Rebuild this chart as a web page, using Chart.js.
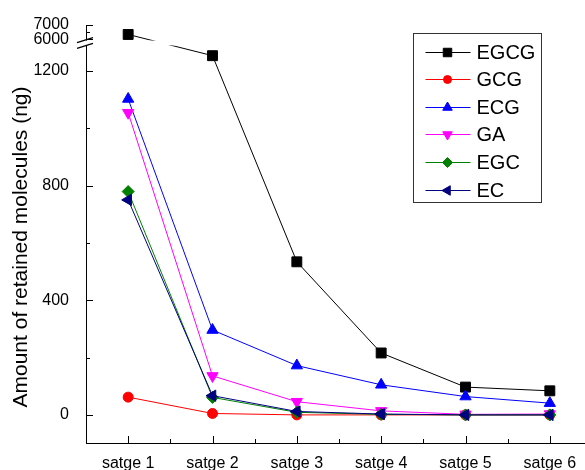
<!DOCTYPE html>
<html>
<head>
<meta charset="utf-8">
<script src="https://cdn.jsdelivr.net/npm/chart.js@4.4.1/dist/chart.umd.min.js"></script>
<style>
  html, body { margin: 0; padding: 0; background: #fff; overflow: hidden; }
  #wrap { width: 585px; height: 470px; overflow: hidden; }
  #wrap canvas { display: block; }
</style>
</head>
<body>
<div id="wrap"><canvas id="chart" width="600" height="470"></canvas></div>
<script>
const stages = ["satge 1", "satge 2", "satge 3", "satge 4", "satge 5", "satge 6"];

// retained amount per stage (ng)
const egcg = [6340, 1253, 534, 216, 97, 84];
const gcg  = [62, 5, 0, 0, 0, 0];
const ecg  = [1102, 296, 172, 105, 64, 41];
const ga   = [1054, 136, 46, 14, 2, 3];
const egc  = [779, 61, 9, 2, 0, 0];
const ec   = [750, 67, 12, 3, 0, 0];

const yTicks = [0, 400, 800, 1200, 6000, 7000];
const yMinorTicks = [200, 600, 1000, 6500];
const yMin = -98;
const yMax = 7000;
const yTitle = 'Amount of retained molecules (ng)';

// broken y axis: values above the break get squeezed on top of the lower range
const breakLow = 1287;     // top of the lower segment
const breakHigh = 5950;    // bottom of the upper segment
const upperBase = 1310;    // axis position of 6000
const upperScale = 0.05;   // 1000 units above the break = 50 units below it

function toAxis(v) {
  return v > breakLow ? upperBase + (v - 6000) * upperScale : v;
}
function fromAxis(a) {
  return a > breakLow ? Math.round(6000 + (a - upperBase) / upperScale) : a;
}

const FONT = '"Liberation Sans", Arial, Helvetica, sans-serif';
Chart.defaults.font.family = FONT;
Chart.defaults.color = '#000';

function series(label, values, color, style, radius, rotation, order) {
  return {
    label: label,
    data: values.map(toAxis),
    borderColor: color,
    backgroundColor: color,
    pointBackgroundColor: color,
    pointBorderColor: color,
    borderWidth: 1,
    pointStyle: style,
    pointRadius: radius,
    pointRotation: rotation,
    pointBorderWidth: 1,
    tension: 0,
    order: order
  };
}

// inward ticks, minor ticks, the break marks and the y title
const axisDecor = {
  id: 'axisDecor',
  afterDraw(chart) {
    const { ctx, chartArea: area, scales: { x, y } } = chart;
    ctx.save();
    ctx.strokeStyle = '#000';
    ctx.lineWidth = 1;
    ctx.beginPath();
    yTicks.forEach(v => {
      const py = Math.round(y.getPixelForValue(toAxis(v))) + 0.5;
      ctx.moveTo(area.left, py);
      ctx.lineTo(area.left + 7, py);
    });
    yMinorTicks.forEach(v => {
      const py = Math.round(y.getPixelForValue(toAxis(v))) + 0.5;
      ctx.moveTo(area.left, py);
      ctx.lineTo(area.left + 4, py);
    });
    stages.forEach((s, i) => {
      const px = Math.round(x.getPixelForValue(i)) + 0.5;
      ctx.moveTo(px, area.bottom);
      ctx.lineTo(px, area.bottom - 7);
      const mx = Math.round(x.getPixelForValue(i + 0.5)) + 0.5;
      ctx.moveTo(mx, area.bottom);
      ctx.lineTo(mx, area.bottom - 4);
    });
    ctx.stroke();

    // gap across the plot where the axis is broken
    const yHigh = y.getPixelForValue(toAxis(breakHigh));
    const yLow = y.getPixelForValue(breakLow);
    ctx.fillStyle = '#fff';
    ctx.fillRect(area.left - 2, yHigh + 0.5, area.right - area.left, yLow - yHigh - 1);

    ctx.lineWidth = 1.3;
    ctx.beginPath();
    [yHigh, yLow].forEach(py => {
      ctx.moveTo(area.left - 9, py + 2.5);
      ctx.lineTo(area.left + 7, py - 2.5);
    });
    ctx.stroke();

    // axis title sits a little below the middle of the axis
    ctx.translate(21, (area.top + area.bottom) / 2 + 13);
    ctx.rotate(-Math.PI / 2);
    ctx.fillStyle = '#000';
    ctx.font = '21px ' + FONT;
    ctx.textAlign = 'center';
    ctx.textBaseline = 'middle';
    ctx.fillText(yTitle, 0, 0);
    ctx.restore();
  }
};

// boxed legend in the upper right corner of the plot
const legendBox = {
  id: 'legendBox',
  afterDraw(chart) {
    const ctx = chart.ctx;
    const left = 413.5, top = 33.5, w = 128, h = 169;
    ctx.save();
    ctx.fillStyle = '#fff';
    ctx.fillRect(left, top, w, h);
    ctx.strokeStyle = '#333';
    ctx.lineWidth = 1;
    ctx.strokeRect(left, top, w, h);
    ctx.font = '20px ' + FONT;
    ctx.textBaseline = 'middle';
    chart.data.datasets.forEach((ds, i) => {
      const cy = Math.round(top + 18 + i * 27.6) + 0.5;
      ctx.strokeStyle = ds.borderColor;
      ctx.lineWidth = 1;
      ctx.beginPath();
      ctx.moveTo(left + 12, cy);
      ctx.lineTo(left + 57, cy);
      ctx.stroke();
      ctx.fillStyle = ds.pointBackgroundColor;
      Chart.helpers.drawPoint(ctx, {
        pointStyle: ds.pointStyle,
        radius: ds.pointRadius - 1,
        rotation: ds.pointRotation,
        borderWidth: 1
      }, left + 34, cy);
      ctx.fillStyle = '#000';
      ctx.fillText(ds.label, left + 63, cy + 1);
    });
    ctx.restore();
  }
};

new Chart(document.getElementById('chart'), {
  type: 'line',
  data: {
    labels: stages,
    datasets: [
      series('EGCG', egcg, '#000000', 'rect', 7, 0, 6),
      series('GCG', gcg, '#ff0000', 'circle', 5, 0, 5),
      series('ECG', ecg, '#0000ff', 'triangle', 6.5, 0, 4),
      series('GA', ga, '#ff00ff', 'triangle', 6.5, 180, 3),
      series('EGC', egc, '#008000', 'rectRot', 6, 0, 2),
      series('EC', ec, '#000080', 'triangle', 6.5, -90, 1)
    ]
  },
  options: {
    responsive: false,
    animation: false,
    devicePixelRatio: 1,
    layout: { padding: { top: 25, right: 6, left: 0, bottom: 0 } },
    plugins: {
      legend: { display: false },
      tooltip: { enabled: false }
    },
    scales: {
      x: {
        offset: true,
        border: { color: '#000', width: 1 },
        grid: { display: false },
        ticks: { font: { size: 16 }, color: '#000', padding: 3, maxRotation: 0, autoSkip: false },
        afterFit: s => { s.height = 27; }
      },
      y: {
        min: yMin,
        max: toAxis(yMax),
        border: { color: '#000', width: 1 },
        grid: { display: false },
        afterBuildTicks: s => { s.ticks = yTicks.map(v => ({ value: toAxis(v) })); },
        ticks: {
          font: { size: 16 },
          color: '#000',
          padding: 9,
          autoSkip: false,
          callback: value => fromAxis(value)
        },
        afterFit: s => { s.width = 86; }
      }
    }
  },
  plugins: [axisDecor, legendBox]
});
</script>
</body>
</html>
